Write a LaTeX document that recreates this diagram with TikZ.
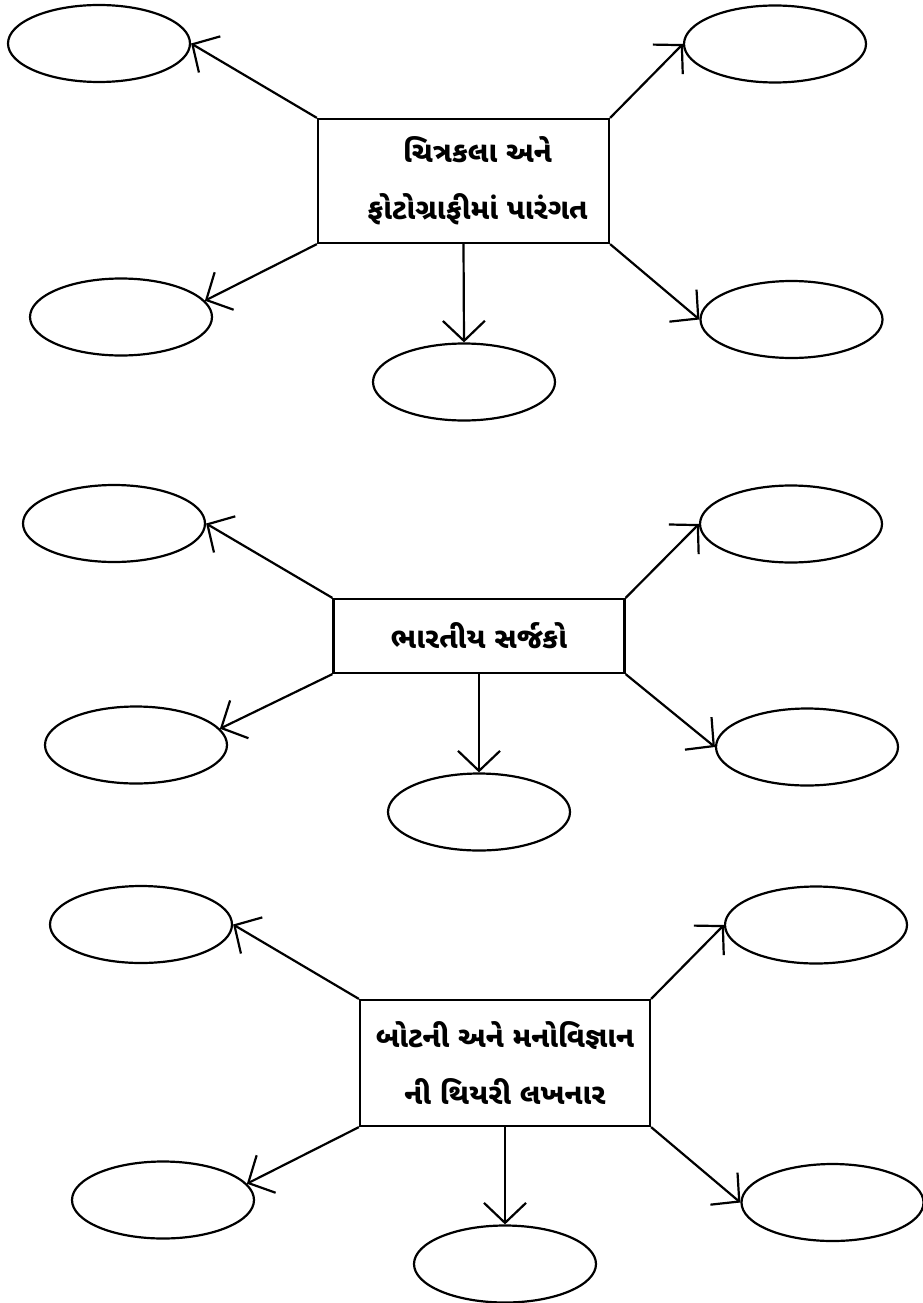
\documentclass[tikz,border=0pt]{standalone}
\usepackage{fontspec}
\usetikzlibrary{shapes.geometric, arrows.meta, positioning}
\newfontfamily\gujfont[Script=Gujarati]{Noto Sans Gujarati UI}

\begin{document}
\begin{tikzpicture}[x=1pt, y=-1pt,
    topic/.style={draw, line width=2.2pt, rectangle, minimum width=291pt, inner sep=0pt,
        align=center, font=\gujfont\bfseries\fontsize{29}{57}\selectfont},
    blank/.style={draw, line width=2.2pt, ellipse, minimum width=182pt, minimum height=77pt, inner sep=0pt},
    link/.style={line width=2.2pt, -{Straight Barb[length=20pt, width=42pt]}}]
    \useasboundingbox (0,0) rectangle (922,1303);

    % Painting and photography
    \node[topic, minimum height=124pt] (art) at (463.5,181) {\hspace*{28pt}ચિત્રકલા અને\\\hspace*{28pt}ફોટોગ્રાફીમાં પારંગત};
    \node[blank] (art-tl) at (99,43.5) {};
    \node[blank] (art-tr) at (775,44) {};
    \node[blank] (art-bl) at (121,317) {};
    \node[blank] (art-br) at (791.5,319.5) {};
    \node[blank] (art-bc) at (464,382) {};
    \draw[link] (art.north west) -- (art-tl.east);
    \draw[link] (art.north east) -- (art-tr.west);
    \draw[link] (art.south west) -- (art-bl.11);
    \draw[link] (art.south east) -- (art-br.west);
    \draw[link] (art.south) -- (art-bc.north);

    % Indian creators
    \node[topic, minimum height=74pt] (maker) at (479,636) {ભારતીય સર્જકો};
    \node[blank] (maker-tl) at (114,523.5) {};
    \node[blank] (maker-tr) at (791,524) {};
    \node[blank] (maker-bl) at (136,745) {};
    \node[blank] (maker-br) at (807,747) {};
    \node[blank] (maker-bc) at (479,812) {};
    \draw[link] (maker.north west) -- (maker-tl.east);
    \draw[link] (maker.north east) -- (maker-tr.west);
    \draw[link] (maker.south west) -- (maker-bl.11);
    \draw[link] (maker.south east) -- (maker-br.west);
    \draw[link] (maker.south) -- (maker-bc.north);

    % Botany and psychology
    \node[topic, minimum width=290pt, minimum height=126pt] (theory) at (505,1063) {બોટની અને મનોવિજ્ઞાન\\ની થિયરી લખનાર};
    \node[blank] (theory-tl) at (141,924.5) {};
    \node[blank] (theory-tr) at (816,925) {};
    \node[blank] (theory-bl) at (163,1200) {};
    \node[blank] (theory-br) at (832.5,1202.5) {};
    \node[blank] (theory-bc) at (505,1264) {};
    \draw[link] (theory.north west) -- (theory-tl.east);
    \draw[link] (theory.north east) -- (theory-tr.west);
    \draw[link] (theory.south west) -- (theory-bl.11);
    \draw[link] (theory.south east) -- (theory-br.west);
    \draw[link] (theory.south) -- (theory-bc.north);
\end{tikzpicture}
\end{document}
